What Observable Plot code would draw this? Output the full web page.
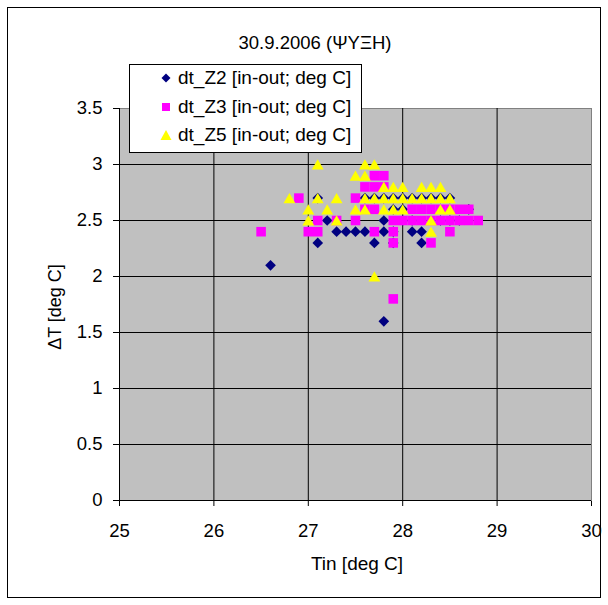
<!DOCTYPE html>
<html>
<head>
<meta charset="utf-8">
<script src="https://cdn.jsdelivr.net/npm/d3@7"></script>
<script src="https://cdn.jsdelivr.net/npm/@observablehq/plot@0.6"></script>
<style>
  body { margin: 0; background: #fff; font-family: "Liberation Sans", Arial, sans-serif; }
  #wrap { position: relative; width: 608px; height: 605px; overflow: hidden; }
  #outer { position: absolute; left: 7px; top: 7px; width: 592px; height: 589px; border: 1px solid #000; pointer-events: none; }
  .lbl { position: absolute; color: #000; white-space: nowrap; line-height: 1; }
  #legend { position: absolute; left: 129px; top: 64px; width: 231px; height: 87px; background: #fff; border: 1px solid #000; }
  .leg-row { position: absolute; left: 30px; height: 22px; font-size: 19px; line-height: 22px; }
  .leg-row svg { position: absolute; left: 0; top: 5px; }
  .leg-row span { position: absolute; left: 18px; white-space: nowrap; }
</style>
</head>
<body>
<div id="wrap"></div>
<script>
// Series Z2 (navy diamonds)
const z2x = [26.6,27.1,27.1,27.2,27.3,27.4,27.5,27.6,27.6,27.7,27.8,27.9,28.0,28.1,28.2,28.3,28.4,28.5,27.8,27.8,27.7,28.1,28.2,28.2,27.8,27.9,28.0,28.7,28.4,28.5,28.6,28.0,28.1,27.9,27.9];
const z2y = [2.1,2.3,2.7,2.5,2.4,2.4,2.4,2.4,2.7,2.7,2.7,2.7,2.7,2.7,2.7,2.7,2.7,2.7,2.5,2.4,2.3,2.4,2.4,2.3,1.6,2.6,2.6,2.6,2.5,2.5,2.5,2.5,2.5,2.4,2.3];
// Series Z3 (magenta squares)
const z3x = [26.5,26.9,27.0,27.1,27.1,27.3,27.5,27.5,27.6,27.7,27.8,27.7,27.8,27.6,27.7,27.9,28.0,28.1,28.2,28.3,28.4,28.5,28.6,28.7,28.8,28.1,28.2,28.3,28.4,28.5,28.6,28.7,27.7,27.9,27.9,28.3,28.5,27.9];
const z3y = [2.4,2.7,2.4,2.4,2.5,2.5,2.5,2.7,2.8,2.8,2.8,2.9,2.9,2.6,2.6,2.5,2.5,2.5,2.5,2.5,2.5,2.5,2.5,2.5,2.5,2.6,2.6,2.6,2.6,2.6,2.6,2.6,2.4,2.4,2.3,2.3,2.4,1.8];
// Series Z5 (yellow triangles)
const z5x = [27.1,27.6,27.7,27.5,27.6,27.8,27.9,28.0,28.2,28.3,28.4,26.8,27.1,27.3,27.6,27.7,27.8,27.9,28.0,28.1,28.2,28.3,28.4,28.5,27.0,27.2,27.5,27.6,27.8,27.9,28.0,28.4,28.5,27.0,27.3,28.3,28.3,27.7];
const z5y = [3.0,3.0,3.0,2.9,2.9,2.8,2.8,2.8,2.8,2.8,2.8,2.7,2.7,2.7,2.7,2.7,2.7,2.7,2.7,2.7,2.7,2.7,2.7,2.7,2.6,2.6,2.6,2.6,2.6,2.6,2.6,2.6,2.6,2.5,2.5,2.5,2.4,2.0];

const xTicks = [25,26,27,28,29,30];
const yTicks = [0,0.5,1,1.5,2,2.5,3,3.5];
const seriesNames = ["dt_Z2 [in-out; deg C]","dt_Z3 [in-out; deg C]","dt_Z5 [in-out; deg C]"];
const titleText = "30.9.2006 (ΨΥΞΗ)";
const xLabel = "Tin [deg C]";
const yLabel = "ΔT [deg C]";

const toRows = (xs, ys) => xs.map((x, i) => ({x, y: ys[i]}));
const d2 = toRows(z2x, z2y), d3r = toRows(z3x, z3y), d5 = toRows(z5x, z5y);

const chart = Plot.plot({
  width: 608,
  height: 605,
  marginLeft: 119,
  marginRight: 17,
  marginTop: 108,
  marginBottom: 105,
  style: {fontFamily: '"Liberation Sans", Arial, sans-serif', fontSize: "18.5px", background: "transparent", overflow: "visible"},
  x: {domain: [25, 30], ticks: xTicks, tickSize: 6, tickPadding: 17, tickFormat: d => String(d), label: null},
  y: {domain: [0, 3.5], ticks: yTicks, tickSize: 6, tickPadding: 11, tickFormat: d => String(d), label: null},
  marks: [
    Plot.frame({fill: "#c0c0c0", stroke: "#808080"}),
    Plot.ruleY(yTicks.filter(v => v > 0 && v < 3.5), {stroke: "#000", strokeWidth: 1}),
    Plot.ruleX(xTicks.filter(v => v > 25 && v < 30), {stroke: "#000", strokeWidth: 1}),
    Plot.ruleX([25], {stroke: "#000"}),
    Plot.ruleY([0], {stroke: "#000"}),
    Plot.dot(d2, {x: "x", y: "y", symbol: "diamond2", r: 4.8, fill: "#000080", stroke: "none"}),
    Plot.dot(d3r, {x: "x", y: "y", symbol: "square", r: 5.4, fill: "#ff00ff", stroke: "none"}),
    Plot.dot(d5, {x: "x", y: "y", symbol: "triangle", r: 4.4, dy: 1.7, fill: "#ffff00", stroke: "none"})
  ]
});

const wrap = document.getElementById("wrap");
wrap.appendChild(chart);

function addLabel(text, css) {
  const d = document.createElement("div");
  d.className = "lbl";
  d.textContent = text;
  Object.assign(d.style, css);
  wrap.appendChild(d);
  return d;
}
addLabel(titleText, {left: "315px", top: "43px", fontSize: "18.5px", transform: "translate(-50%,-50%)"});
addLabel(xLabel, {left: "357px", top: "563px", fontSize: "19px", transform: "translate(-50%,-50%)"});
addLabel(yLabel, {left: "55px", top: "307px", fontSize: "18px", transform: "translate(-50%,-50%) rotate(-90deg)"});

// legend
const legend = document.createElement("div");
legend.id = "legend";
const markers = [
  '<svg width="12" height="12"><path d="M6,1.5L10.5,6L6,10.5L1.5,6Z" fill="#000080"/></svg>',
  '<svg width="12" height="12"><rect x="2" y="2" width="8" height="8" fill="#ff00ff"/></svg>',
  '<svg width="12" height="12"><path d="M6,1L11.5,11L0.5,11Z" fill="#ffff00"/></svg>'
];
const rowTops = [2, 31, 59];
seriesNames.forEach((name, i) => {
  const r = document.createElement("div");
  r.className = "leg-row";
  r.style.top = rowTops[i] + "px";
  r.innerHTML = markers[i] + "<span></span>";
  r.querySelector("span").textContent = name;
  legend.appendChild(r);
});
wrap.appendChild(legend);

const outer = document.createElement("div");
outer.id = "outer";
wrap.appendChild(outer);
</script>
</body>
</html>
